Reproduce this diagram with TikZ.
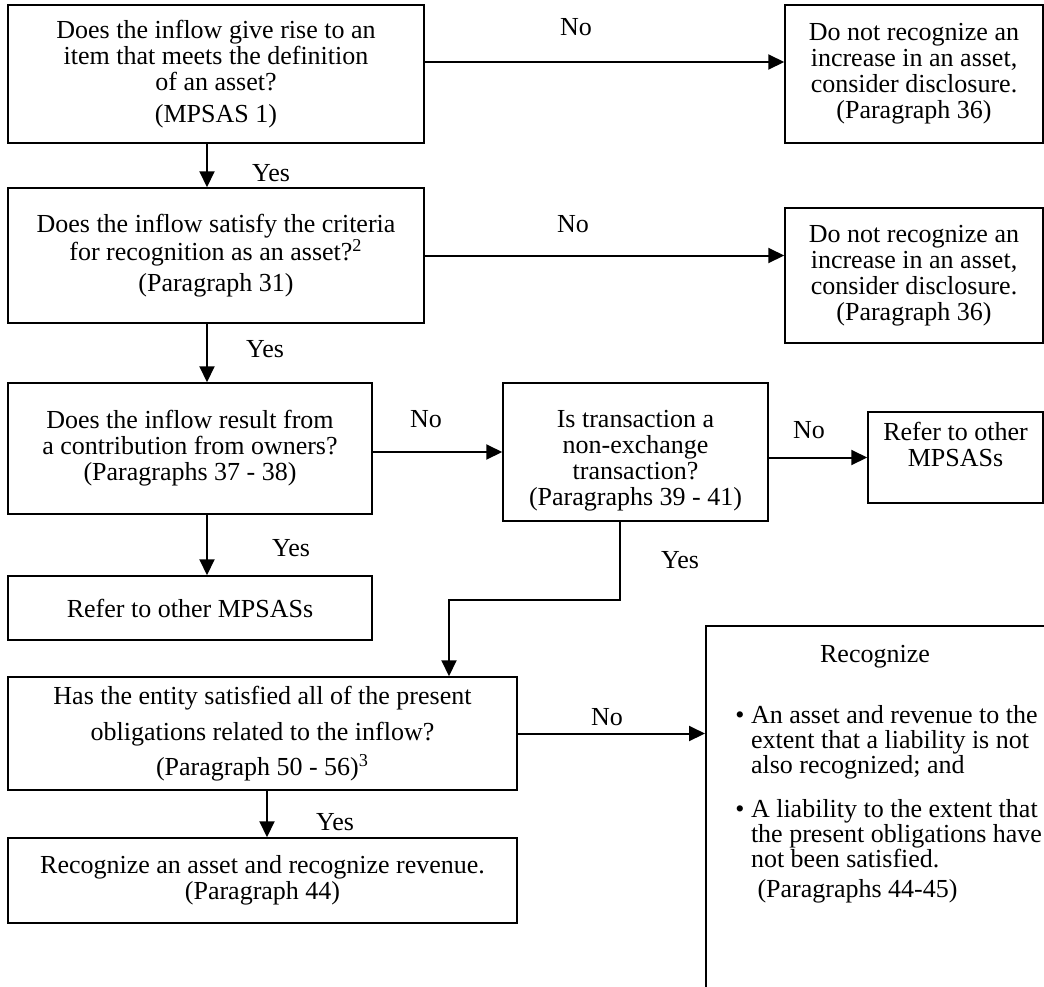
\documentclass[tikz,border=0pt]{standalone}
\usepackage{fontspec}
\setmainfont{Liberation Serif}
\usepackage{tikz}
\usetikzlibrary{arrows.meta}

\begin{document}
\begin{tikzpicture}[x=0.5pt,y=-0.5pt, every node/.style={font=\fontsize{13}{13}\selectfont}, >={Triangle[length=8pt,width=7.5pt]}]
\tikzstyle{box}=[draw,line width=0.75pt,inner sep=0pt,align=center]
\tikzstyle{arr}=[->,line width=1pt]
\tikzstyle{lbl}=[anchor=base,inner sep=0pt]
\useasboundingbox (0,0) rectangle (1044,986);
\fill[white] (0,0) rectangle (1044,986);
\clip (0,0) rectangle (1044,986);
\node[box,minimum width=208pt,minimum height=69pt] (defq) at (216,74) {Does the inflow give rise to an\\ item that meets the definition\\ of an asset?\\[3pt] (MPSAS 1)};
\node[box,minimum width=129pt,minimum height=69pt] (nodef) at (914,74) {Do not recognize an\\ increase in an asset,\\ consider disclosure.\\ (Paragraph 36)};
\node[box,minimum width=208pt,minimum height=67.5pt] (critq) at (216,255.5) {Does the inflow satisfy the criteria\\ for recognition as an asset?\textsuperscript{2}\\[2.5pt] (Paragraph 31)};
\node[box,minimum width=129pt,minimum height=67.5pt] (nocrit) at (914,275.5) {Do not recognize an\\ increase in an asset,\\ consider disclosure.\\ (Paragraph 36)};
\node[box,minimum width=182pt,minimum height=65.5pt] (ownq) at (190,448.5) {Does the inflow result from\\ a contribution from owners?\\ (Paragraphs 37 - 38)};
\node[box,minimum width=132.5pt,minimum height=69pt] (exchq) at (635.5,452) {\rule{0pt}{17pt}Is transaction a\\ non-exchange\\ transaction?\\ (Paragraphs 39 - 41)};
\node[box,minimum width=87.5pt,minimum height=45.5pt] (refer2) at (955.5,457.5) {Refer to other\\ MPSASs\\ \mbox{}};
\node[box,minimum width=182pt,minimum height=32pt] (refer1) at (190,608) {Refer to other MPSASs};
\node[box,minimum width=254.5pt,minimum height=56.5pt] (presq) at (262.5,733.5) {Has the entity satisfied all of the present\\[5pt] obligations related to the inflow?\\[3pt] (Paragraph 50 - 56)\textsuperscript{3}};
\node[box,minimum width=254.5pt,minimum height=42.5pt] (recres) at (262.5,880.5) {Recognize an asset and recognize revenue.\\ (Paragraph 44)};
\node[box,minimum width=200pt,minimum height=225pt,anchor=north west] (recog) at (705,625) {};
\node[lbl] (recoghead) at (875,662) {Recognize};
\node[anchor=north west,inner sep=0pt,align=left,font=\fontsize{13}{12.5}\selectfont] (recoglist) at (735,705) {\textbullet\ An asset and revenue to the\\ \phantom{\textbullet\ }extent that a liability is not\\ \phantom{\textbullet\ }also recognized; and\\[9.5pt] \textbullet\ A liability to the extent that\\ \phantom{\textbullet\ }the present obligations have\\ \phantom{\textbullet\ }not been satisfied.\\[2.5pt] \phantom{\textbullet\ }\ (Paragraphs 44-45)};
\coordinate (yesturn) at (449,600);
\draw[arr] ([yshift=6pt]defq.east) -- ([yshift=6pt]nodef.west);
\draw[arr] ([xshift=-4.5pt]defq.south) -- ([xshift=-4.5pt]critq.north);
\draw[arr] (critq.east) -- (critq.east -| nocrit.west);
\draw[arr] ([xshift=-4.5pt]critq.south) -- ([xshift=-4.5pt]critq.south |- ownq.north);
\draw[arr] (exchq.west -| ownq.east) -- (exchq.west);
\draw[arr] (refer2.west -| exchq.east) -- (refer2.west);
\draw[arr] ([xshift=8.5pt]ownq.south) -- ([xshift=8.5pt]refer1.north);
\draw[arr] ([xshift=-7.75pt]exchq.south) |- (yesturn) -- (yesturn |- presq.north);
\draw[arr] (presq.east) -- (presq.east -| recog.west);
\draw[arr] ([xshift=2.25pt]presq.south) -- ([xshift=2.25pt]recres.north);
\node[lbl] (no1) at (576,35) {No};
\node[lbl] (yes1) at (271,181) {Yes};
\node[lbl] (no2) at (573,232) {No};
\node[lbl] (yes2) at (265,357) {Yes};
\node[lbl] (no3) at (426,427) {No};
\node[lbl] (no4) at (809,438) {No};
\node[lbl] (yes3) at (291,556) {Yes};
\node[lbl] (yes4) at (680,568) {Yes};
\node[lbl] (no5) at (607,725) {No};
\node[lbl] (yes5) at (335,830) {Yes};
\end{tikzpicture}
\end{document}
